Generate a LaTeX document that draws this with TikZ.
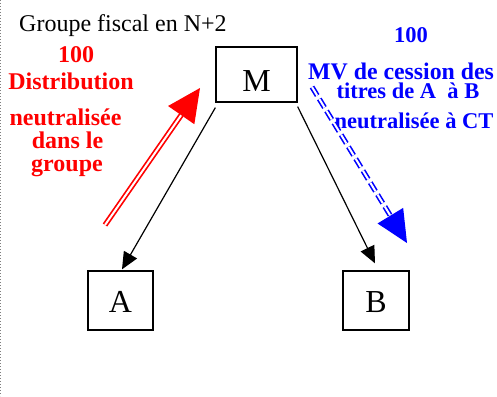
\documentclass[tikz,border=0pt]{standalone}
\usepackage{fontspec}
\setmainfont{Liberation Serif}
\usetikzlibrary{arrows.meta,calc}
\definecolor{pured}{RGB}{255,0,0}
\definecolor{publ}{RGB}{0,0,255}
\tikzset{
  box/.style={draw, line width=1.3pt, inner sep=0pt, font=\fontsize{32}{36}\selectfont, text depth=0pt},
  blk/.style={line width=1.2pt, -{Triangle[length=17pt,width=15pt]}},
  redtxt/.style={text=pured, font=\fontsize{24}{28}\selectfont\bfseries, anchor=base, inner sep=0pt},
  bluetxt/.style={text=publ, font=\fontsize{22.5}{26}\selectfont\bfseries, anchor=base, inner sep=0pt},
  redshaft/.style={draw=pured, line width=1.7pt, double=white, double distance=2pt},
  blueshaft/.style={draw=publ, line width=1.6pt, double=white, double distance=2pt, dash pattern=on 10pt off 4pt},
}
\begin{document}
\begin{tikzpicture}[x=1pt,y=-1pt]
\useasboundingbox (0,0) rectangle (497,396);
\draw[gray, line width=0.8pt, dash pattern=on 1pt off 2pt] (0.6,0) -- (0.6,396);
% title
\node[anchor=base west, inner sep=0pt, font=\fontsize{24}{28}\selectfont] (title) at (19,32) {Groupe fiscal en N+2};
% boxes
\node[box, minimum width=81pt, minimum height=55pt, text height=33pt] (M) at (256.5,74.5) {M};
\node[box, minimum width=65pt, minimum height=59pt, text height=23pt] (A) at (120.5,300.5) {A};
\node[box, minimum width=66pt, minimum height=59pt, text height=23pt] (B) at (376,300.5) {B};
% black arrows
\draw[blk] ($(M.south west)+(0,5)$) -- ($(A.north)+(1.5,-1)$);
\draw[blk] ($(M.south east)+(0,4)$) -- ($(B.north)+(-1,-7)$);
% red texts
\node[redtxt] (r1) at (76,62) {100};
\node[redtxt] (r2) at (71,89) {Distribution};
\node[redtxt] (r3) at (65.5,125) {neutralisée};
\node[redtxt] (r4) at (67.5,148) {dans le};
\node[redtxt] (r5) at (67,171) {groupe};
% blue texts
\node[bluetxt] (b1) at (411,42) {100};
\node[bluetxt, anchor=base west, font=\fontsize{23.8}{26}\selectfont\bfseries] (b2) at (308,79) {MV de cession des};
\node[bluetxt] (b3) at (408,98) {titres de A\ \ à B};
\node[bluetxt] (b4) at (414,128) {neutralisée à CT};
% red double arrow
\coordinate (rtail) at (105,225);
\coordinate (rtip) at (200,88);
\coordinate (rb) at ($(rtip)!33pt!(rtail)$);
\draw[redshaft] (rtail) -- (rb);
\fill[pured] (rtip) -- ($(rb)!16pt!90:(rtip)$) -- ($(rb)!16pt!-90:(rtip)$) -- cycle;
% blue dashed double arrow
\coordinate (btail) at (312,87);
\coordinate (btip) at (407,243);
\coordinate (bb) at ($(btip)!32pt!(btail)$);
\draw[blueshaft] (btail) -- (bb);
\fill[publ] (btip) -- ($(bb)!15pt!90:(btip)$) -- ($(bb)!15pt!-90:(btip)$) -- cycle;
\end{tikzpicture}
\end{document}
